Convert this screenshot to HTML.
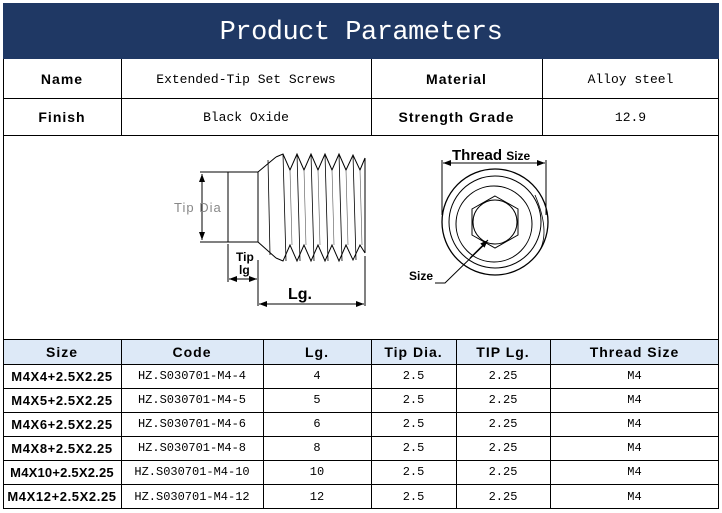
<!DOCTYPE html>
<html><head><meta charset="utf-8"><style>
body{margin:0;width:722px;height:513px;background:#fff;position:relative;font-family:"Liberation Mono","Noto Sans CJK SC",monospace;}
.a{position:absolute;box-sizing:border-box;}
.t{position:absolute;display:flex;align-items:center;justify-content:center;color:#000;font-size:13px;}
.b{font-family:"Liberation Sans","Noto Sans CJK SC",sans-serif;font-weight:bold;font-size:14px;letter-spacing:1px;}
.s{font-size:13px !important;letter-spacing:0.6px !important;}
.hl{position:absolute;height:1px;background:#000;}
.vl{position:absolute;width:1px;background:#000;}
</style></head><body>
<div class="a" style="left:3px;top:3px;width:716px;height:506px;border:1px solid #000;"></div>
<div class="a" style="left:3px;top:3px;width:716px;height:56px;background:#1f3864;"></div>
<div class="t" style="left:3px;top:5px;width:716px;height:56px;color:#fff;font-family:'Liberation Mono',monospace;font-size:27px;letter-spacing:-0.5px;">Product Parameters</div>
<div class="hl" style="left:3px;top:98px;width:716px"></div>
<div class="hl" style="left:3px;top:135px;width:716px"></div>
<div class="vl" style="left:121px;top:59px;height:76px"></div>
<div class="vl" style="left:371px;top:59px;height:76px"></div>
<div class="vl" style="left:542px;top:59px;height:76px"></div>
<div class="t b" style="left:3px;top:59px;width:118px;height:39px">Name</div>
<div class="t" style="left:121px;top:59px;width:250px;height:41px">Extended-Tip Set Screws</div>
<div class="t b" style="left:371px;top:59px;width:171px;height:39px">Material</div>
<div class="t" style="left:542px;top:59px;width:177px;height:41px">Alloy steel</div>
<div class="t b" style="left:3px;top:98px;width:118px;height:37px">Finish</div>
<div class="t" style="left:121px;top:98px;width:250px;height:39px">Black Oxide</div>
<div class="t b" style="left:371px;top:98px;width:171px;height:37px">Strength Grade</div>
<div class="t" style="left:542px;top:98px;width:177px;height:39px">12.9</div>

<svg class="a" style="left:0;top:0" width="722" height="513">
<defs><marker id="ar" markerWidth="8" markerHeight="6" refX="8" refY="3" orient="auto-start-reverse"><path d="M0,0L8,3L0,6z" fill="#000"/></marker></defs>
<g fill="none" stroke="#000" stroke-width="1">
<rect x="228" y="172" width="30" height="70"/>
<path d="M258,172 L276,157 M258,242 L276,258"/>
<path d="M276,157 L283,154 L290,170 L297,154 L304,170 L311,154 L318,170 L325,154 L332,170 L339,154 L346,170 L353,155 L360,170 L365,158"/>
<path d="M276,258 L283,261 L290,245 L297,261 L304,245 L311,261 L318,245 L325,261 L332,245 L339,261 L346,245 L353,260 L360,245 L365,253"/>
<path d="M365,158 L365,253"/>
<path d="M268,160 L270,255 M283,154 L286,261 M297,154 L300,261 M311,154 L314,261 M325,154 L328,261 M339,154 L342,261 M353,155 L356,260" stroke-width="0.8"/>
<path d="M290,170 L292,245 M304,170 L306,245 M318,170 L320,245 M332,170 L334,245 M346,170 L348,245 M360,170 L362,245" stroke-width="0.6" stroke="#555"/>
<path d="M200,172 L228,172 M200,242 L228,242"/>
<line x1="202" y1="174" x2="202" y2="240" marker-start="url(#ar)" marker-end="url(#ar)"/>
<path d="M228,244 L228,282 M258,260 L258,306 M365,256 L365,306"/>
<line x1="229" y1="279" x2="257" y2="279" marker-start="url(#ar)" marker-end="url(#ar)"/>
<line x1="259" y1="304" x2="364" y2="304" marker-start="url(#ar)" marker-end="url(#ar)"/>
<circle cx="495" cy="222" r="53" stroke-width="1.3"/>
<circle cx="495" cy="222" r="46"/>
<circle cx="494" cy="224" r="38"/>
<path d="M495,196 L518,209 L518,235 L495,248 L472,235 L472,209 Z"/>
<circle cx="495" cy="222" r="22"/>
<path d="M535,195 Q550,230 540,250" stroke-width="0.8"/>
<path d="M442,215 L442,160 M546,215 L546,160"/>
<line x1="443" y1="163" x2="545" y2="163" marker-start="url(#ar)" marker-end="url(#ar)"/>
<path d="M435,283 L445,283 L486,243"/>
<line x1="470" y1="258" x2="488" y2="240" marker-end="url(#ar)"/>
</g>
<g font-family="Liberation Sans,sans-serif">
<text x="174" y="212" font-size="13" fill="#888" letter-spacing="1">Tip  Dia</text>
<text x="236" y="261" font-size="12" font-weight="bold">Tip</text>
<text x="239" y="274" font-size="12" font-weight="bold">lg</text>
<text x="288" y="299" font-size="16" font-weight="bold">Lg.</text>
<text x="452" y="160" font-size="15" font-weight="bold">Thread <tspan font-size="12">Size</tspan></text>
<text x="409" y="280" font-size="12" font-weight="bold">Size</text>
</g>
</svg>

<div class="hl" style="left:3px;top:339px;width:716px"></div>
<div class="a" style="left:4px;top:340px;width:714px;height:24px;background:#dde9f7;"></div>
<div class="hl" style="left:3px;top:364px;width:716px"></div>
<div class="hl" style="left:3px;top:388px;width:716px"></div>
<div class="hl" style="left:3px;top:412px;width:716px"></div>
<div class="hl" style="left:3px;top:436px;width:716px"></div>
<div class="hl" style="left:3px;top:460px;width:716px"></div>
<div class="hl" style="left:3px;top:484px;width:716px"></div>
<div class="vl" style="left:121px;top:339px;height:170px"></div>
<div class="vl" style="left:263px;top:339px;height:170px"></div>
<div class="vl" style="left:371px;top:339px;height:170px"></div>
<div class="vl" style="left:456px;top:339px;height:170px"></div>
<div class="vl" style="left:550px;top:339px;height:170px"></div>
<div class="t b" style="left:3px;top:340px;width:118px;height:24px">Size</div>
<div class="t b" style="left:121px;top:340px;width:142px;height:24px">Code</div>
<div class="t b" style="left:263px;top:340px;width:108px;height:24px">Lg.</div>
<div class="t b" style="left:371px;top:340px;width:85px;height:24px">Tip Dia.</div>
<div class="t b" style="left:456px;top:340px;width:94px;height:24px">TIP Lg.</div>
<div class="t b" style="left:550px;top:340px;width:169px;height:24px">Thread Size</div>

<div class="t b s" style="left:3px;top:364px;width:118px;height:24px">M4X4+2.5X2.25</div>
<div class="t" style="left:121px;top:364px;width:142px;height:24px;font-size:12px">HZ.S030701-M4-4</div>
<div class="t" style="left:263px;top:364px;width:108px;height:24px;font-size:12px">4</div>
<div class="t" style="left:371px;top:364px;width:85px;height:24px;font-size:12px">2.5</div>
<div class="t" style="left:456px;top:364px;width:94px;height:24px;font-size:12px">2.25</div>
<div class="t" style="left:550px;top:364px;width:169px;height:24px;font-size:12px">M4</div>

<div class="t b s" style="left:3px;top:388px;width:118px;height:24px">M4X5+2.5X2.25</div>
<div class="t" style="left:121px;top:388px;width:142px;height:24px;font-size:12px">HZ.S030701-M4-5</div>
<div class="t" style="left:263px;top:388px;width:108px;height:24px;font-size:12px">5</div>
<div class="t" style="left:371px;top:388px;width:85px;height:24px;font-size:12px">2.5</div>
<div class="t" style="left:456px;top:388px;width:94px;height:24px;font-size:12px">2.25</div>
<div class="t" style="left:550px;top:388px;width:169px;height:24px;font-size:12px">M4</div>

<div class="t b s" style="left:3px;top:412px;width:118px;height:24px">M4X6+2.5X2.25</div>
<div class="t" style="left:121px;top:412px;width:142px;height:24px;font-size:12px">HZ.S030701-M4-6</div>
<div class="t" style="left:263px;top:412px;width:108px;height:24px;font-size:12px">6</div>
<div class="t" style="left:371px;top:412px;width:85px;height:24px;font-size:12px">2.5</div>
<div class="t" style="left:456px;top:412px;width:94px;height:24px;font-size:12px">2.25</div>
<div class="t" style="left:550px;top:412px;width:169px;height:24px;font-size:12px">M4</div>

<div class="t b s" style="left:3px;top:436px;width:118px;height:24px">M4X8+2.5X2.25</div>
<div class="t" style="left:121px;top:436px;width:142px;height:24px;font-size:12px">HZ.S030701-M4-8</div>
<div class="t" style="left:263px;top:436px;width:108px;height:24px;font-size:12px">8</div>
<div class="t" style="left:371px;top:436px;width:85px;height:24px;font-size:12px">2.5</div>
<div class="t" style="left:456px;top:436px;width:94px;height:24px;font-size:12px">2.25</div>
<div class="t" style="left:550px;top:436px;width:169px;height:24px;font-size:12px">M4</div>

<div class="t b s" style="left:3px;top:460px;width:118px;height:24px;letter-spacing:0.2px !important">M4X10+2.5X2.25</div>
<div class="t" style="left:121px;top:460px;width:142px;height:24px;font-size:12px">HZ.S030701-M4-10</div>
<div class="t" style="left:263px;top:460px;width:108px;height:24px;font-size:12px">10</div>
<div class="t" style="left:371px;top:460px;width:85px;height:24px;font-size:12px">2.5</div>
<div class="t" style="left:456px;top:460px;width:94px;height:24px;font-size:12px">2.25</div>
<div class="t" style="left:550px;top:460px;width:169px;height:24px;font-size:12px">M4</div>

<div class="t b s" style="left:3px;top:484px;width:118px;height:25px">M4X12+2.5X2.25</div>
<div class="t" style="left:121px;top:484px;width:142px;height:25px;font-size:12px">HZ.S030701-M4-12</div>
<div class="t" style="left:263px;top:484px;width:108px;height:25px;font-size:12px">12</div>
<div class="t" style="left:371px;top:484px;width:85px;height:25px;font-size:12px">2.5</div>
<div class="t" style="left:456px;top:484px;width:94px;height:25px;font-size:12px">2.25</div>
<div class="t" style="left:550px;top:484px;width:169px;height:25px;font-size:12px">M4</div>
</body></html>
